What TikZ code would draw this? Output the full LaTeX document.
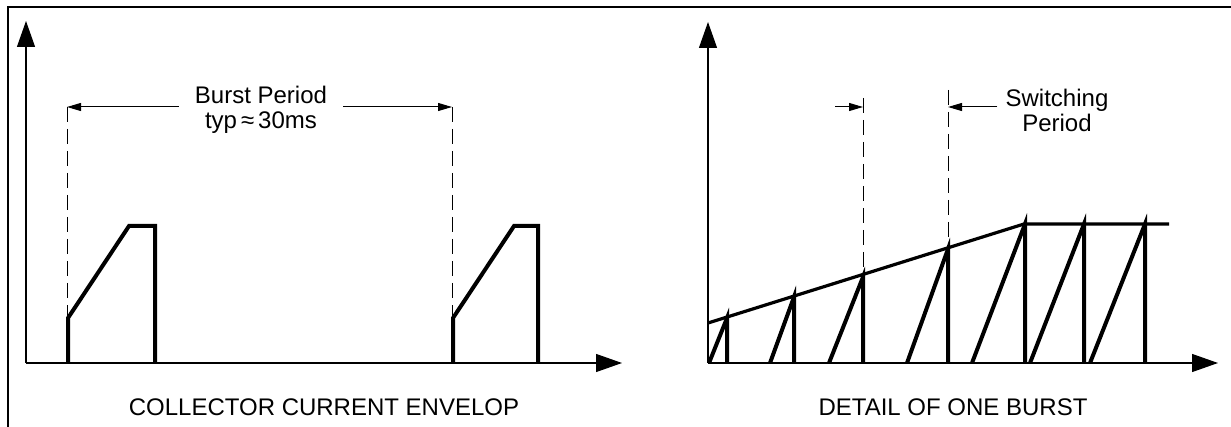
\documentclass[tikz,border=0pt]{standalone}
\usepackage{fontspec}
\setmainfont{Liberation Sans}
\usetikzlibrary{arrows.meta}

\begin{document}
\begin{tikzpicture}[x=0.5pt,y=-0.5pt,
    axis/.style={line width=0.6pt,-{Triangle[length=13pt,width=9pt]}},
    pulse/.style={line width=2pt,line join=miter},
    envline/.style={line width=1.6pt},
    guide/.style={line width=0.5pt,dash pattern=on 7.5pt off 3.5pt},
    dimline/.style={line width=0.5pt,-{Triangle[length=7pt,width=4pt]}},
    lbl/.style={font=\fontsize{12}{12.5}\selectfont,align=center,inner sep=0pt}]

          \useasboundingbox (0,0) rectangle (1231,427);
          \draw[line width=1pt] (8,427) -- (8,7) -- (1231,7);

          % collector current envelop
          \coordinate (O1) at (26,363);
          \coordinate (Y1) at (26,21);
          \coordinate (X1) at (622,363);
          \draw[axis] (O1) -- (Y1);
          \draw[axis] (O1) -- (X1);

          \coordinate (bpL) at (67,107);
          \coordinate (bpR) at (452,107);
          \draw[guide] (bpL) -- (67,363);
          \draw[guide] (bpR) -- (452,363);

          \draw[pulse] (68,363) -- (68,318) -- (129,226) -- (155,226) -- (155,363);
          \draw[pulse] (453,363) -- (453,318) -- (514,226) -- (538,226) -- (538,363);

          \node[lbl,inner xsep=8pt] (bp) at (261,110) {Burst Period\\typ\,≈\,30ms};
          \draw[dimline] (bp.west |- bpL) -- (bpL);
          \draw[dimline] (bp.east |- bpR) -- (bpR);

          \node[lbl] (env) at (324,407) {COLLECTOR CURRENT ENVELOP};

          % detail of one burst
          \coordinate (O2) at (708,363);
          \coordinate (Y2) at (708,22);
          \coordinate (X2) at (1218,363);
          \draw[axis] (O2) -- (Y2);
          \draw[axis] (O2) -- (X2);

          \draw[envline] (708,323) -- (1024,224) -- (1169,224);
          \foreach \a/\b/\h in {709/727/318, 770/794/297, 829/863/277, 907/948/249,
                                972/1025/224, 1030/1084/224, 1090/1145/224}
            \draw[pulse] (\a,363) -- (\b,\h) -- (\b,363);

          \coordinate (spL) at (863,107);
          \coordinate (spR) at (948,107);
          \draw[guide] (863,98) -- (863,277);
          \draw[guide] (948,90) -- (948,249);

          \node[lbl,inner xsep=4pt] (sp) at (1057,110) {Switching\\Period};
          \coordinate (spA) at (835,107);
          \draw[dimline] (spA) -- (spL);
          \draw[dimline] (sp.west |- spR) -- (spR);

          \node[lbl] (det) at (953,407) {DETAIL OF ONE BURST};

        \end{tikzpicture}
\end{document}
